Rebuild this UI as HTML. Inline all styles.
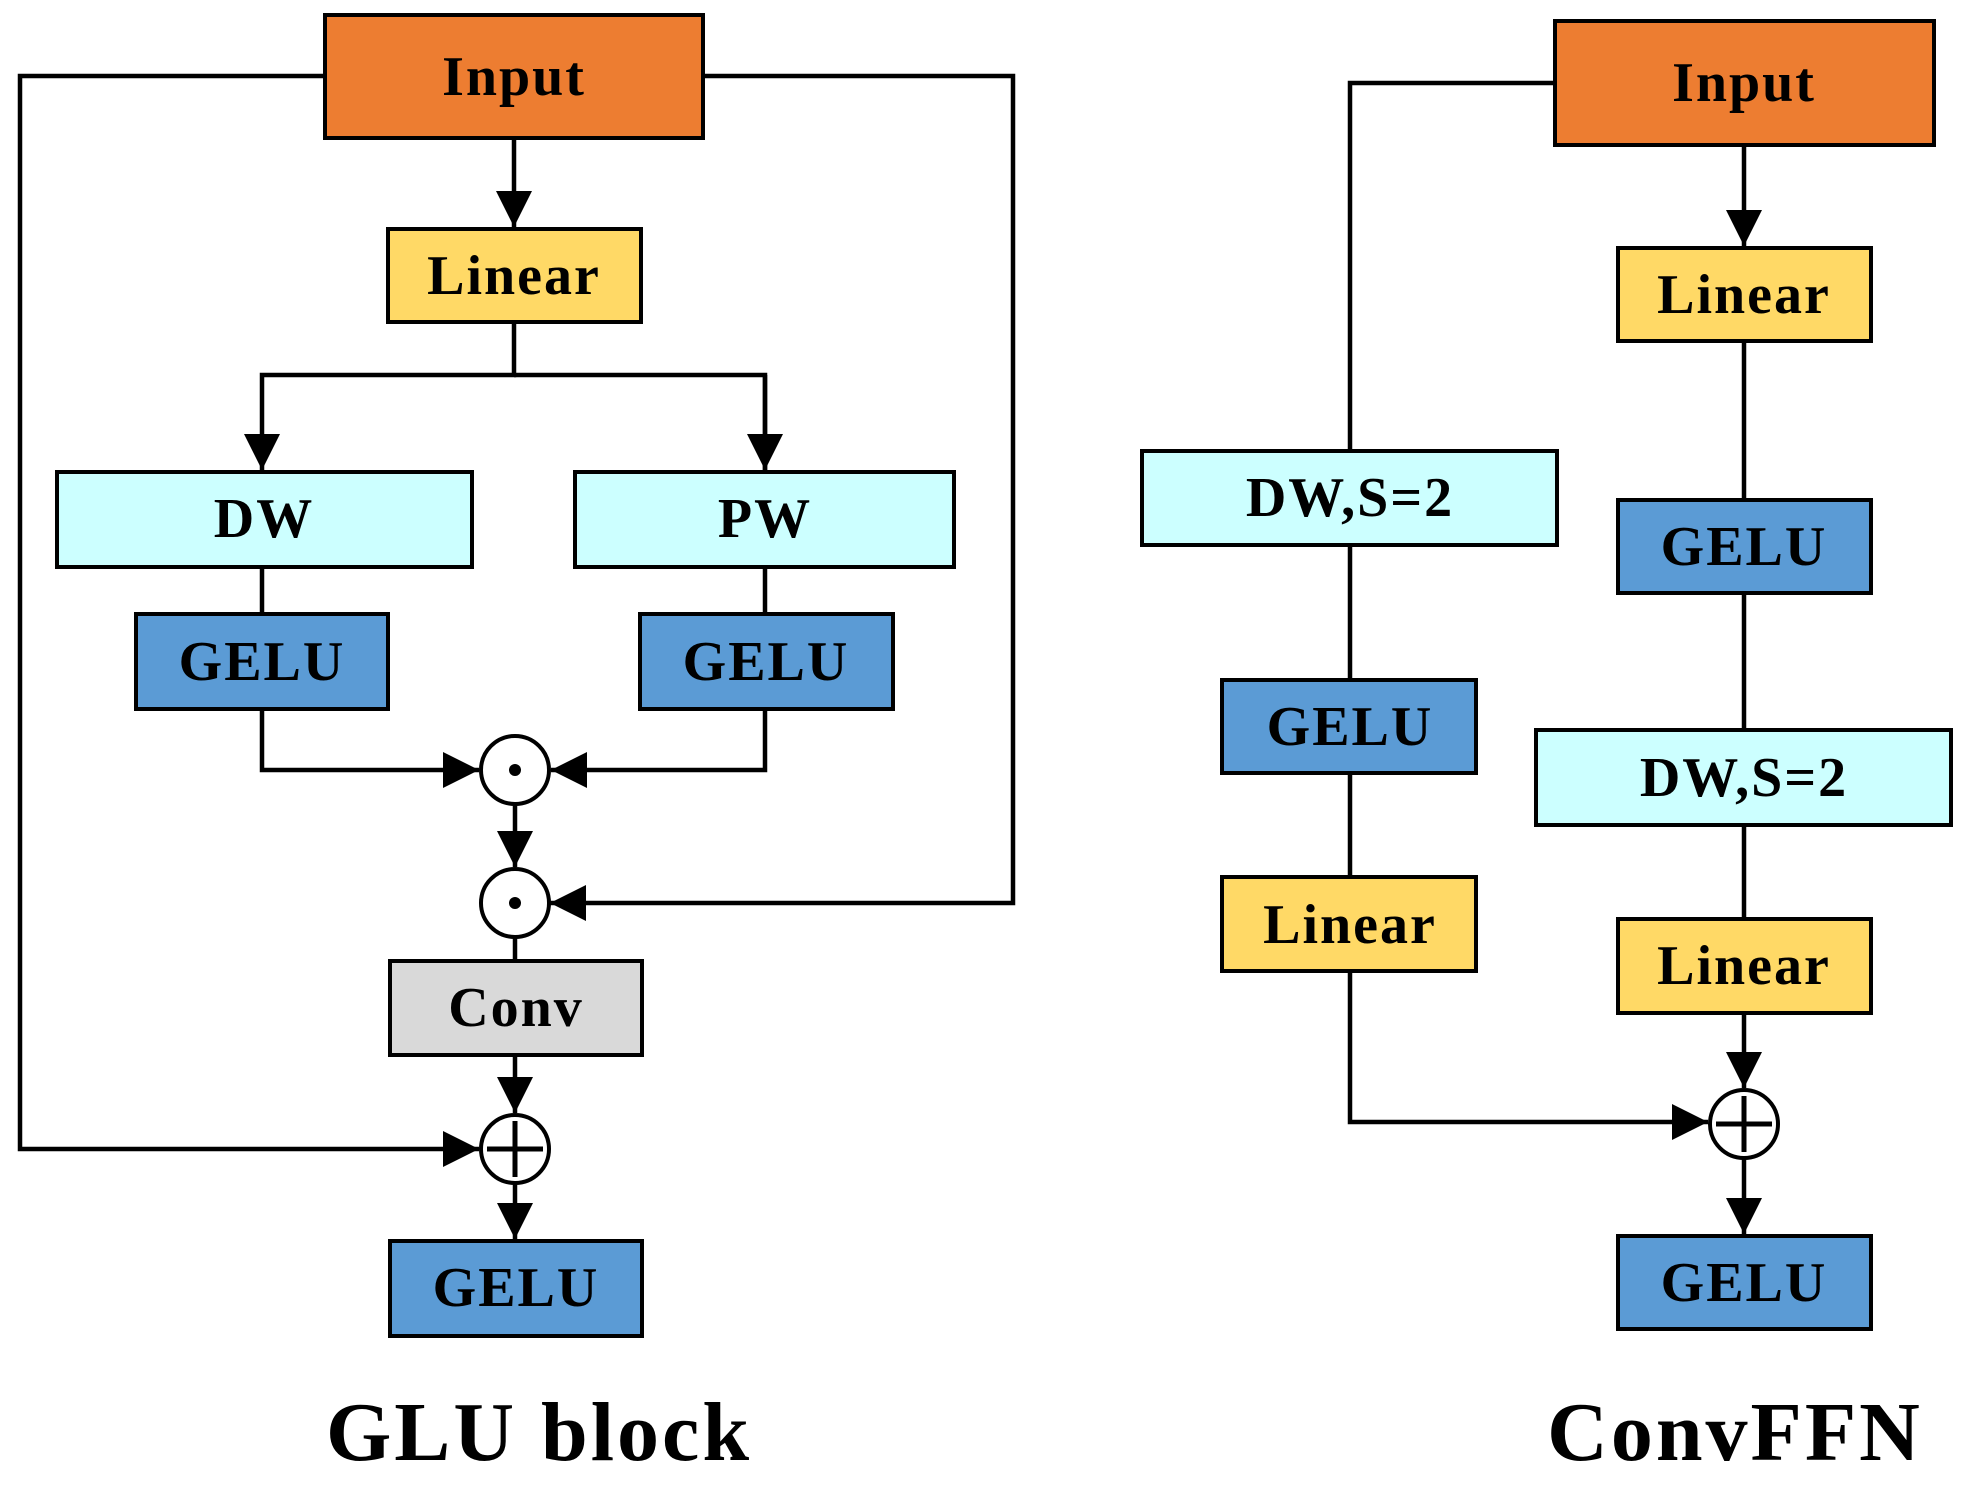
<!DOCTYPE html>
<html><head><meta charset="utf-8"><style>
html,body{margin:0;padding:0;background:#fff}
svg{display:block}
text{font-family:"Liberation Serif",serif;font-weight:bold;fill:#000;text-anchor:middle}
</style></head><body>
<svg width="1964" height="1495" viewBox="0 0 1964 1495">
<defs>
<marker id="a" viewBox="0 0 10 10" refX="10" refY="5" markerWidth="8.5" markerHeight="8" markerUnits="strokeWidth" orient="auto"><path d="M0,0 L10,5 L0,10 z" fill="#000"/></marker>
</defs>
<g stroke="#000" stroke-width="4.5" fill="none">
<polyline points="325,76 20,76 20,1149 479,1149" marker-end="url(#a)"/>
<polyline points="703,76 1013,76 1013,903 550,903" marker-end="url(#a)"/>
<line x1="514" y1="138" x2="514" y2="227" marker-end="url(#a)"/>
<polyline points="514,322 514,375 262,375 262,470" marker-end="url(#a)"/>
<polyline points="514,375 765,375 765,470"/>
<line x1="765" y1="375" x2="765" y2="470" marker-end="url(#a)"/>
<line x1="262" y1="567" x2="262" y2="614"/>
<line x1="765" y1="567" x2="765" y2="614"/>
<polyline points="262,709 262,770 479,770" marker-end="url(#a)"/>
<polyline points="765,709 765,770 551,770" marker-end="url(#a)"/>
<line x1="515" y1="804" x2="515" y2="867" marker-end="url(#a)"/>
<line x1="515" y1="937" x2="515" y2="961"/>
<line x1="515" y1="1055" x2="515" y2="1113" marker-end="url(#a)"/>
<line x1="515" y1="1183" x2="515" y2="1239" marker-end="url(#a)"/>
<polyline points="1555,83 1350,83 1350,451"/>
<line x1="1350" y1="545" x2="1350" y2="680"/>
<line x1="1350" y1="773" x2="1350" y2="877"/>
<polyline points="1350,971 1350,1122 1708,1122" marker-end="url(#a)"/>
<line x1="1744" y1="145" x2="1744" y2="246" marker-end="url(#a)"/>
<line x1="1744" y1="341" x2="1744" y2="500"/>
<line x1="1744" y1="593" x2="1744" y2="730"/>
<line x1="1744" y1="825" x2="1744" y2="919"/>
<line x1="1744" y1="1013" x2="1744" y2="1088" marker-end="url(#a)"/>
<line x1="1744" y1="1158" x2="1744" y2="1234" marker-end="url(#a)"/>
</g>
<g stroke="#000" stroke-width="4">
<rect x="325" y="15" width="378" height="123" fill="#ED7D31"/>
<rect x="388" y="229" width="253" height="93" fill="#FFD966"/>
<rect x="57" y="472" width="415" height="95" fill="#CCFFFF"/>
<rect x="575" y="472" width="379" height="95" fill="#CCFFFF"/>
<rect x="136" y="614" width="252" height="95" fill="#5B9BD5"/>
<rect x="640" y="614" width="253" height="95" fill="#5B9BD5"/>
<rect x="390" y="961" width="252" height="94" fill="#D9D9D9"/>
<rect x="390" y="1241" width="252" height="95" fill="#5B9BD5"/>
<circle cx="515" cy="770" r="34" fill="#fff"/>
<circle cx="515" cy="903" r="34" fill="#fff"/>
<circle cx="515" cy="1149" r="34" fill="#fff"/>
<rect x="1555" y="21" width="379" height="124" fill="#ED7D31"/>
<rect x="1618" y="248" width="253" height="93" fill="#FFD966"/>
<rect x="1618" y="500" width="253" height="93" fill="#5B9BD5"/>
<rect x="1536" y="730" width="415" height="95" fill="#CCFFFF"/>
<rect x="1618" y="919" width="253" height="94" fill="#FFD966"/>
<rect x="1618" y="1236" width="253" height="93" fill="#5B9BD5"/>
<rect x="1142" y="451" width="415" height="94" fill="#CCFFFF"/>
<rect x="1222" y="680" width="254" height="93" fill="#5B9BD5"/>
<rect x="1222" y="877" width="254" height="94" fill="#FFD966"/>
<circle cx="1744" cy="1124" r="34" fill="#fff"/>
<path d="M515,1121 V1177 M487,1149 H543 M1744,1096 V1152 M1716,1124 H1772" stroke-width="5"/>
</g>
<circle cx="515" cy="770" r="6" fill="#000"/>
<circle cx="515" cy="903" r="6" fill="#000"/>
<g font-size="56" letter-spacing="2">
<text x="514" y="95">Input</text>
<text x="514" y="294">Linear</text>
<text x="264" y="537">DW</text>
<text x="765" y="537">PW</text>
<text x="262" y="680">GELU</text>
<text x="766" y="680">GELU</text>
<text x="516" y="1026">Conv</text>
<text x="516" y="1306">GELU</text>
<text x="1744" y="101">Input</text>
<text x="1744" y="313">Linear</text>
<text x="1744" y="565">GELU</text>
<text x="1744" y="796">DW,S=2</text>
<text x="1744" y="984">Linear</text>
<text x="1744" y="1301">GELU</text>
<text x="1350" y="516">DW,S=2</text>
<text x="1350" y="745">GELU</text>
<text x="1350" y="943">Linear</text>
</g>
<text x="539" y="1460" font-size="84" letter-spacing="3">GLU block</text>
<text x="1735" y="1460" font-size="84" letter-spacing="3">ConvFFN</text>
</svg>
</body></html>
